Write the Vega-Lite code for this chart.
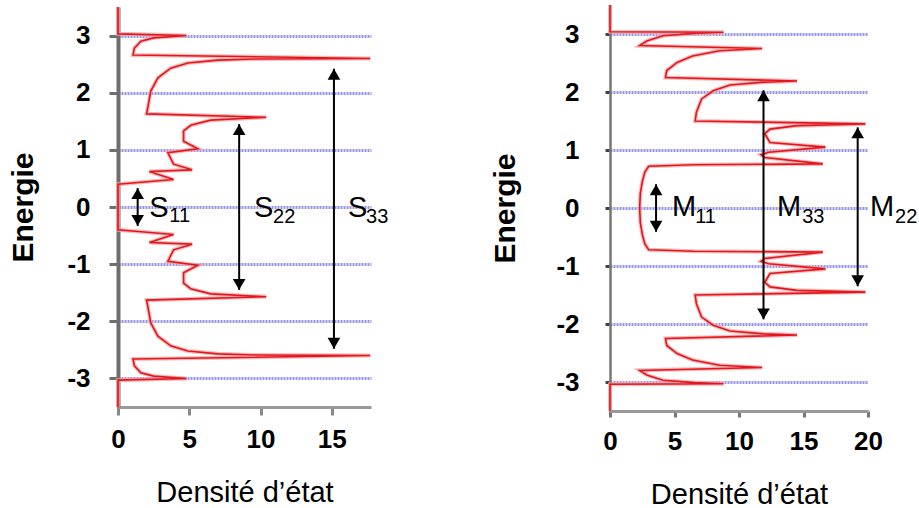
{
  "$schema": "https://vega.github.io/schema/vega-lite/v6.json",
  "background": "white",
  "padding": {"left": 8, "top": -3, "right": 0, "bottom": 0},
  "spacing": 101,
  "center": true,
  "config": {
    "view": {"stroke": null},
    "font": "Liberation Sans",
    "axis": {"labelFont": "Liberation Sans", "titleFont": "Liberation Sans", "labelColor": "#000", "titleColor": "#000", "labelFlush": false}
  },
  "datasets": {
    "S": [
      {"i": 0, "d": 0, "e": -3.5}, {"i": 1, "d": 0, "e": -3.03}, {"i": 2, "d": 4.8, "e": -3.0}, {"i": 3, "d": 2.5, "e": -2.96},
      {"i": 4, "d": 1.6, "e": -2.9}, {"i": 5, "d": 1.15, "e": -2.78}, {"i": 6, "d": 1.05, "e": -2.66}, {"i": 7, "d": 17.7, "e": -2.6},
      {"i": 8, "d": 9.5, "e": -2.59}, {"i": 9, "d": 7.0, "e": -2.57}, {"i": 10, "d": 4.9, "e": -2.52}, {"i": 11, "d": 3.7, "e": -2.43},
      {"i": 12, "d": 2.8, "e": -2.26}, {"i": 13, "d": 2.3, "e": -2.03}, {"i": 14, "d": 2.1, "e": -1.75}, {"i": 15, "d": 2.0, "e": -1.63},
      {"i": 16, "d": 10.4, "e": -1.57}, {"i": 17, "d": 6.5, "e": -1.52}, {"i": 18, "d": 5.1, "e": -1.43}, {"i": 19, "d": 4.6, "e": -1.33},
      {"i": 20, "d": 4.6, "e": -1.15}, {"i": 21, "d": 5.6, "e": -1.02}, {"i": 22, "d": 3.5, "e": -0.95}, {"i": 23, "d": 3.9, "e": -0.75},
      {"i": 24, "d": 5.2, "e": -0.65}, {"i": 25, "d": 2.2, "e": -0.62}, {"i": 26, "d": 3.9, "e": -0.48}, {"i": 27, "d": 1.0, "e": -0.42},
      {"i": 28, "d": 0, "e": -0.4}, {"i": 29, "d": 0, "e": 0.4}, {"i": 30, "d": 1.0, "e": 0.42}, {"i": 31, "d": 3.9, "e": 0.48},
      {"i": 32, "d": 2.2, "e": 0.62}, {"i": 33, "d": 5.2, "e": 0.65}, {"i": 34, "d": 3.9, "e": 0.75}, {"i": 35, "d": 3.5, "e": 0.95},
      {"i": 36, "d": 5.6, "e": 1.02}, {"i": 37, "d": 4.6, "e": 1.15}, {"i": 38, "d": 4.6, "e": 1.33}, {"i": 39, "d": 5.1, "e": 1.43},
      {"i": 40, "d": 6.5, "e": 1.52}, {"i": 41, "d": 10.4, "e": 1.57}, {"i": 42, "d": 2.0, "e": 1.63}, {"i": 43, "d": 2.1, "e": 1.75},
      {"i": 44, "d": 2.3, "e": 2.03}, {"i": 45, "d": 2.8, "e": 2.26}, {"i": 46, "d": 3.7, "e": 2.43}, {"i": 47, "d": 4.9, "e": 2.52},
      {"i": 48, "d": 7.0, "e": 2.57}, {"i": 49, "d": 9.5, "e": 2.59}, {"i": 50, "d": 17.7, "e": 2.6}, {"i": 51, "d": 1.05, "e": 2.66},
      {"i": 52, "d": 1.15, "e": 2.78}, {"i": 53, "d": 1.6, "e": 2.9}, {"i": 54, "d": 2.5, "e": 2.96}, {"i": 55, "d": 4.8, "e": 3.0},
      {"i": 56, "d": 0, "e": 3.03}, {"i": 57, "d": 0, "e": 3.5}
    ],
    "M": [
      {"i": 0, "d": 0, "e": -3.5}, {"i": 1, "d": 0, "e": -3.04}, {"i": 2, "d": 8.8, "e": -3.03}, {"i": 3, "d": 6.5, "e": -3.01},
      {"i": 4, "d": 4.1, "e": -2.97}, {"i": 5, "d": 2.85, "e": -2.88}, {"i": 6, "d": 2.3, "e": -2.8}, {"i": 7, "d": 11.8, "e": -2.75},
      {"i": 8, "d": 8.5, "e": -2.71}, {"i": 9, "d": 6.4, "e": -2.62}, {"i": 10, "d": 5.2, "e": -2.51}, {"i": 11, "d": 4.4, "e": -2.37},
      {"i": 12, "d": 4.3, "e": -2.25}, {"i": 13, "d": 14.5, "e": -2.19}, {"i": 14, "d": 11.9, "e": -2.17}, {"i": 15, "d": 9.3, "e": -2.12},
      {"i": 16, "d": 8.0, "e": -2.02}, {"i": 17, "d": 7.1, "e": -1.88}, {"i": 18, "d": 6.7, "e": -1.65}, {"i": 19, "d": 6.6, "e": -1.5},
      {"i": 20, "d": 19.8, "e": -1.45}, {"i": 21, "d": 14.5, "e": -1.42}, {"i": 22, "d": 12.4, "e": -1.36}, {"i": 23, "d": 12.0, "e": -1.28},
      {"i": 24, "d": 12.4, "e": -1.13}, {"i": 25, "d": 16.7, "e": -1.05}, {"i": 26, "d": 12.3, "e": -0.96}, {"i": 27, "d": 11.7, "e": -0.92},
      {"i": 28, "d": 12.0, "e": -0.87}, {"i": 29, "d": 16.5, "e": -0.76}, {"i": 30, "d": 6.5, "e": -0.745}, {"i": 31, "d": 3.0, "e": -0.72},
      {"i": 32, "d": 2.7, "e": -0.62}, {"i": 33, "d": 2.5, "e": -0.45}, {"i": 34, "d": 2.35, "e": -0.25}, {"i": 35, "d": 2.3, "e": 0},
      {"i": 36, "d": 2.35, "e": 0.25}, {"i": 37, "d": 2.5, "e": 0.45}, {"i": 38, "d": 2.7, "e": 0.62}, {"i": 39, "d": 3.0, "e": 0.72},
      {"i": 40, "d": 6.5, "e": 0.745}, {"i": 41, "d": 16.5, "e": 0.76}, {"i": 42, "d": 12.0, "e": 0.87}, {"i": 43, "d": 11.7, "e": 0.92},
      {"i": 44, "d": 12.3, "e": 0.96}, {"i": 45, "d": 16.7, "e": 1.05}, {"i": 46, "d": 12.4, "e": 1.13}, {"i": 47, "d": 12.0, "e": 1.28},
      {"i": 48, "d": 12.4, "e": 1.36}, {"i": 49, "d": 14.5, "e": 1.42}, {"i": 50, "d": 19.8, "e": 1.45}, {"i": 51, "d": 6.6, "e": 1.5},
      {"i": 52, "d": 6.7, "e": 1.65}, {"i": 53, "d": 7.1, "e": 1.88}, {"i": 54, "d": 8.0, "e": 2.02}, {"i": 55, "d": 9.3, "e": 2.12},
      {"i": 56, "d": 11.9, "e": 2.17}, {"i": 57, "d": 14.5, "e": 2.19}, {"i": 58, "d": 4.3, "e": 2.25}, {"i": 59, "d": 4.4, "e": 2.37},
      {"i": 60, "d": 5.2, "e": 2.51}, {"i": 61, "d": 6.4, "e": 2.62}, {"i": 62, "d": 8.5, "e": 2.71}, {"i": 63, "d": 11.8, "e": 2.75},
      {"i": 64, "d": 2.3, "e": 2.8}, {"i": 65, "d": 2.85, "e": 2.88}, {"i": 66, "d": 4.1, "e": 2.97}, {"i": 67, "d": 6.5, "e": 3.01},
      {"i": 68, "d": 8.8, "e": 3.03}, {"i": 69, "d": 0, "e": 3.04}, {"i": 70, "d": 0, "e": 3.5}
    ],
    "AS": [
      {"d": 1.38, "e": 0.33, "e2": -0.33},
      {"d": 8.5, "e": 1.45, "e2": -1.45},
      {"d": 15.15, "e": 2.42, "e2": -2.48}
    ],
    "AM": [
      {"d": 3.57, "e": 0.41, "e2": -0.41},
      {"d": 11.9, "e": 2.03, "e2": -1.92},
      {"d": 19.2, "e": 1.39, "e2": -1.35}
    ],
    "LS": [
      {"k": "main", "d": 2.2, "e": -0.01, "t": "S"},
      {"k": "main", "d": 9.54, "e": -0.02, "t": "S"},
      {"k": "main", "d": 16.14, "e": -0.02, "t": "S"},
      {"k": "sub", "d": 3.6, "e": -0.15, "t": "11"},
      {"k": "sub", "d": 10.88, "e": -0.17, "t": "22"},
      {"k": "sub", "d": 17.4, "e": -0.17, "t": "33"}
    ],
    "LM": [
      {"k": "main", "d": 4.8, "e": 0.01, "t": "M"},
      {"k": "main", "d": 12.95, "e": 0.01, "t": "M"},
      {"k": "main", "d": 20.16, "e": 0.01, "t": "M"},
      {"k": "sub", "d": 6.6, "e": -0.16, "t": "11"},
      {"k": "sub", "d": 14.9, "e": -0.16, "t": "33"},
      {"k": "sub", "d": 22.1, "e": -0.16, "t": "22"}
    ]
  },
  "hconcat": [
    {
      "width": 253,
      "height": 400,
      "layer": [
        {
          "data": {"name": "S"},
          "mark": {"type": "line", "color": "#f3a3a3", "strokeWidth": 4, "opacity": 0.75},
          "encoding": {
            "x": {"field": "d", "type": "quantitative", "scale": {"domain": [0, 17.75], "nice": false, "zero": false},
              "axis": {"title": "Densité d’état", "values": [0, 5, 10, 15], "grid": false, "domainColor": "#999999", "domainWidth": 3, "tickColor": "#888888", "tickWidth": 3, "tickSize": 8, "labelPadding": 11, "labelFontSize": 26, "labelFontWeight": "bold", "titleFontSize": 29, "titleFontWeight": "normal", "titlePadding": 26}},
            "y": {"field": "e", "type": "quantitative", "scale": {"domain": [-3.5, 3.5], "nice": false, "zero": false},
              "axis": {"title": "Energie", "values": [-3, -2, -1, 0, 1, 2, 3], "labelExpr": "'' + datum.value", "grid": true, "gridColor": "#9494e6", "gridDash": [2, 1], "gridWidth": 3, "domainColor": "#6e6e6e", "domainWidth": 4, "tickColor": "#6e6e6e", "tickWidth": 3, "tickSize": 9, "labelPadding": 19, "labelFontSize": 26, "labelFontWeight": "bold", "titleFontSize": 30, "titleFontWeight": "bold", "titlePadding": 28}},
            "order": {"field": "i", "type": "quantitative"}
          }
        },
        {
          "data": {"name": "S"},
          "mark": {"type": "line", "color": "#e3161d", "strokeWidth": 1.6},
          "encoding": {
            "x": {"field": "d", "type": "quantitative"},
            "y": {"field": "e", "type": "quantitative"},
            "order": {"field": "i", "type": "quantitative"}
          }
        },
        {
          "data": {"name": "AS"},
          "mark": {"type": "rule", "color": "#000000", "strokeWidth": 2},
          "encoding": {
            "x": {"field": "d", "type": "quantitative"},
            "y": {"field": "e", "type": "quantitative"},
            "y2": {"field": "e2"}
          }
        },
        {
          "data": {"name": "AS"},
          "mark": {"type": "point", "shape": "triangle-up", "filled": true, "color": "#000000", "opacity": 1, "size": 160, "yOffset": 5.5},
          "encoding": {
            "x": {"field": "d", "type": "quantitative"},
            "y": {"field": "e", "type": "quantitative"}
          }
        },
        {
          "data": {"name": "AS"},
          "mark": {"type": "point", "shape": "triangle-down", "filled": true, "color": "#000000", "opacity": 1, "size": 160, "yOffset": -5.5},
          "encoding": {
            "x": {"field": "d", "type": "quantitative"},
            "y": {"field": "e2", "type": "quantitative"}
          }
        },
        {
          "data": {"name": "LS"},
          "transform": [{"filter": "datum.k == 'main'"}],
          "mark": {"type": "text", "align": "left", "baseline": "middle", "fontSize": 29, "font": "Liberation Sans", "color": "#000000"},
          "encoding": {
            "x": {"field": "d", "type": "quantitative"},
            "y": {"field": "e", "type": "quantitative"},
            "text": {"field": "t"}
          }
        },
        {
          "data": {"name": "LS"},
          "transform": [{"filter": "datum.k == 'sub'"}],
          "mark": {"type": "text", "align": "left", "baseline": "middle", "fontSize": 20, "font": "Liberation Sans", "color": "#000000"},
          "encoding": {
            "x": {"field": "d", "type": "quantitative"},
            "y": {"field": "e", "type": "quantitative"},
            "text": {"field": "t"}
          }
        }
      ]
    },
    {
      "width": 258,
      "height": 406,
      "layer": [
        {
          "data": {"name": "M"},
          "mark": {"type": "line", "color": "#f3a3a3", "strokeWidth": 4, "opacity": 0.75},
          "encoding": {
            "x": {"field": "d", "type": "quantitative", "scale": {"domain": [0, 20], "nice": false, "zero": false},
              "axis": {"title": "Densité d’état", "values": [0, 5, 10, 15, 20], "grid": false, "domainColor": "#999999", "domainWidth": 3, "tickColor": "#777777", "tickWidth": 3, "tickSize": 6, "labelPadding": 11, "labelFontSize": 26, "labelFontWeight": "bold", "titleFontSize": 29, "titleFontWeight": "normal", "titlePadding": 26}},
            "y": {"field": "e", "type": "quantitative", "scale": {"domain": [-3.5, 3.5], "nice": false, "zero": false},
              "axis": {"title": "Energie", "values": [-3, -2, -1, 0, 1, 2, 3], "labelExpr": "'' + datum.value", "grid": true, "gridColor": "#9494e6", "gridDash": [2, 1], "gridWidth": 3, "domainColor": "#777777", "domainWidth": 2.5, "tickColor": "#444444", "tickWidth": 3, "tickSize": 5, "labelPadding": 26, "labelFontSize": 26, "labelFontWeight": "bold", "titleFontSize": 30, "titleFontWeight": "bold", "titlePadding": 35}},
            "order": {"field": "i", "type": "quantitative"}
          }
        },
        {
          "data": {"name": "M"},
          "mark": {"type": "line", "color": "#e3161d", "strokeWidth": 1.6},
          "encoding": {
            "x": {"field": "d", "type": "quantitative"},
            "y": {"field": "e", "type": "quantitative"},
            "order": {"field": "i", "type": "quantitative"}
          }
        },
        {
          "data": {"name": "AM"},
          "mark": {"type": "rule", "color": "#000000", "strokeWidth": 2},
          "encoding": {
            "x": {"field": "d", "type": "quantitative"},
            "y": {"field": "e", "type": "quantitative"},
            "y2": {"field": "e2"}
          }
        },
        {
          "data": {"name": "AM"},
          "mark": {"type": "point", "shape": "triangle-up", "filled": true, "color": "#000000", "opacity": 1, "size": 160, "yOffset": 5.5},
          "encoding": {
            "x": {"field": "d", "type": "quantitative"},
            "y": {"field": "e", "type": "quantitative"}
          }
        },
        {
          "data": {"name": "AM"},
          "mark": {"type": "point", "shape": "triangle-down", "filled": true, "color": "#000000", "opacity": 1, "size": 160, "yOffset": -5.5},
          "encoding": {
            "x": {"field": "d", "type": "quantitative"},
            "y": {"field": "e2", "type": "quantitative"}
          }
        },
        {
          "data": {"name": "LM"},
          "transform": [{"filter": "datum.k == 'main'"}],
          "mark": {"type": "text", "align": "left", "baseline": "middle", "fontSize": 29, "font": "Liberation Sans", "color": "#000000"},
          "encoding": {
            "x": {"field": "d", "type": "quantitative"},
            "y": {"field": "e", "type": "quantitative"},
            "text": {"field": "t"}
          }
        },
        {
          "data": {"name": "LM"},
          "transform": [{"filter": "datum.k == 'sub'"}],
          "mark": {"type": "text", "align": "left", "baseline": "middle", "fontSize": 20, "font": "Liberation Sans", "color": "#000000"},
          "encoding": {
            "x": {"field": "d", "type": "quantitative"},
            "y": {"field": "e", "type": "quantitative"},
            "text": {"field": "t"}
          }
        }
      ]
    }
  ]
}
